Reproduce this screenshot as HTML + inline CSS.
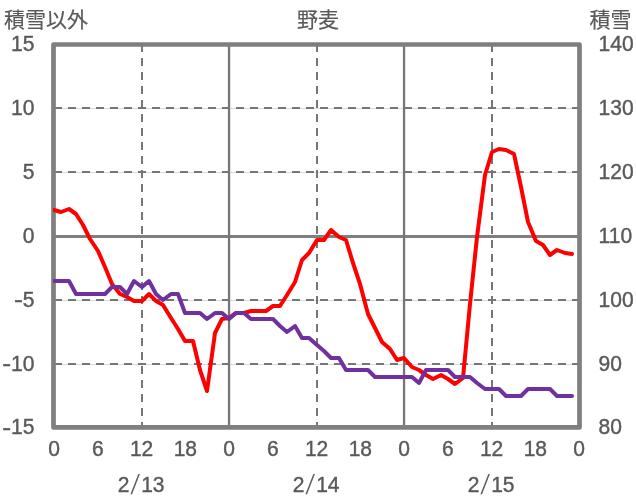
<!DOCTYPE html>
<html lang="ja"><head><meta charset="utf-8"><title>野麦</title>
<style>
html,body{margin:0;padding:0;background:#fff;}
body{width:636px;height:501px;overflow:hidden;font-family:"Liberation Sans",sans-serif;}
svg{display:block;position:absolute;left:0;top:0;}
svg .t{opacity:0.999;}
svg text{font-family:"Liberation Sans",sans-serif;font-size:21.7px;fill:#595959;stroke:#595959;stroke-width:0.4px;}
svg text.cjk{font-family:"Liberation Sans","Noto Sans CJK JP",sans-serif;font-size:21px;stroke-width:0.2px;}
.hid{position:absolute;left:0;top:0;width:1px;height:1px;overflow:hidden;color:transparent;font-size:1px;}
</style></head><body>
<div class="hid">積雪以外 野麦 積雪</div>
<svg width="636" height="501" viewBox="0 0 636 501">
<rect x="0" y="0" width="636" height="501" fill="#ffffff"/>

<g fill="none">
<line x1="54" y1="108.5" x2="579" y2="108.5" stroke="#dcdcdc" stroke-width="1"/>
<line x1="54" y1="108" x2="579" y2="108" stroke="#767676" stroke-width="2" stroke-dasharray="8 6"/>
<line x1="54" y1="172.5" x2="579" y2="172.5" stroke="#dcdcdc" stroke-width="1"/>
<line x1="54" y1="172" x2="579" y2="172" stroke="#767676" stroke-width="2" stroke-dasharray="8 6"/>
<line x1="54" y1="300.5" x2="579" y2="300.5" stroke="#dcdcdc" stroke-width="1"/>
<line x1="54" y1="300" x2="579" y2="300" stroke="#767676" stroke-width="2" stroke-dasharray="8 6"/>
<line x1="54" y1="364.5" x2="579" y2="364.5" stroke="#dcdcdc" stroke-width="1"/>
<line x1="54" y1="364" x2="579" y2="364" stroke="#767676" stroke-width="2" stroke-dasharray="8 6"/>
<line x1="54" y1="236.5" x2="579" y2="236.5" stroke="#7f7f7f" stroke-width="2.9"/>
<line x1="142" y1="44" x2="142" y2="427" stroke="#767676" stroke-width="2" stroke-dasharray="8 6"/>
<line x1="317" y1="44" x2="317" y2="427" stroke="#767676" stroke-width="2" stroke-dasharray="8 6"/>
<line x1="492" y1="44" x2="492" y2="427" stroke="#767676" stroke-width="2" stroke-dasharray="8 6"/>
<line x1="229.05" y1="44" x2="229.05" y2="427" stroke="#767676" stroke-width="2.3"/>
<line x1="404.05" y1="44" x2="404.05" y2="427" stroke="#767676" stroke-width="2.3"/>
<rect x="53.5" y="44.5" width="526.0" height="382.90" stroke="#7f7f7f" stroke-width="4.7" stroke-linejoin="round"/>
<clipPath id="pc"><rect x="53" y="30" width="540" height="410"/></clipPath><g clip-path="url(#pc)">
<polyline points="54,210 61,212 69,209 76,214 83,225 90,239 98,251 105,267 112,284 120,294 127,297 134,301 142,301 149,294 156,301 163,305 171,318 178,329 185,341 193,341 200,370 207,391 215,333 222,319 229,318 236,313 244,313 251,311 258,311 266,311 273,306 280,306 287,295 295,282 302,260 309,253 317,240 324,240 331,230 339,237 346,240 353,263 360,284 368,314 375,328 382,342 390,349 397,360 404,358 412,367 419,370 426,375 433,379 441,375 448,379 455,384 463,378 470,304 477,237 485,175 492,152 499,149 506,150 514,154 521,187 528,222 536,241 543,245 550,255 557,250 565,253 572,254" stroke="#ff0000" stroke-width="4" stroke-linejoin="round" stroke-linecap="round"/>
<polyline points="54,281 61,281 69,281 76,294 83,294 90,294 98,294 105,294 112,287 120,287 127,294 134,281 142,287 149,281 156,294 163,300 171,294 178,294 185,313 193,313 200,313 207,319 215,313 222,313 229,319 236,313 244,313 251,319 258,319 266,319 273,319 280,326 287,332 295,326 302,338 309,338 317,345 324,351 331,358 339,358 346,370 353,370 360,370 368,370 375,377 382,377 390,377 397,377 404,377 412,377 419,383 426,370 433,370 441,370 448,370 455,377 463,377 470,377 477,383 485,389 492,389 499,389 506,396 514,396 521,396 528,389 536,389 543,389 550,389 557,396 565,396 572,396" stroke="#7030a0" stroke-width="4" stroke-linejoin="round" stroke-linecap="round"/>
</g></g>
<g class="t">
<text transform="translate(34.50,51.43) scale(0.97,1)" text-anchor="end">15</text>
<text transform="translate(34.50,115.24) scale(0.97,1)" text-anchor="end">10</text>
<text transform="translate(34.50,179.06) scale(0.97,1)" text-anchor="end">5</text>
<text transform="translate(34.50,242.87) scale(0.97,1)" text-anchor="end">0</text>
<text transform="translate(34.50,306.69) scale(0.97,1)" text-anchor="end">5</text>
<text transform="translate(22.87,307.49) scale(1.232,1)" text-anchor="end">-</text>
<text transform="translate(34.50,370.51) scale(0.97,1)" text-anchor="end">10</text>
<text transform="translate(11.19,371.31) scale(1.232,1)" text-anchor="end">-</text>
<text transform="translate(34.50,434.32) scale(0.97,1)" text-anchor="end">15</text>
<text transform="translate(11.19,435.12) scale(1.232,1)" text-anchor="end">-</text>
<text transform="translate(598.60,51.43) scale(0.97,1)" text-anchor="start">140</text>
<text transform="translate(598.60,115.24) scale(0.97,1)" text-anchor="start">130</text>
<text transform="translate(598.60,179.06) scale(0.97,1)" text-anchor="start">120</text>
<text transform="translate(598.60,242.87) scale(0.97,1)" text-anchor="start">110</text>
<text transform="translate(598.60,306.69) scale(0.97,1)" text-anchor="start">100</text>
<text transform="translate(598.60,370.51) scale(0.97,1)" text-anchor="start">90</text>
<text transform="translate(598.60,434.32) scale(0.97,1)" text-anchor="start">80</text>
<text transform="translate(54.10,455.75) scale(0.97,1)" text-anchor="middle">0</text>
<text transform="translate(97.85,455.75) scale(0.97,1)" text-anchor="middle">6</text>
<text transform="translate(141.60,455.75) scale(0.97,1)" text-anchor="middle">12</text>
<text transform="translate(185.35,455.75) scale(0.97,1)" text-anchor="middle">18</text>
<text transform="translate(229.10,455.75) scale(0.97,1)" text-anchor="middle">0</text>
<text transform="translate(272.85,455.75) scale(0.97,1)" text-anchor="middle">6</text>
<text transform="translate(316.60,455.75) scale(0.97,1)" text-anchor="middle">12</text>
<text transform="translate(360.35,455.75) scale(0.97,1)" text-anchor="middle">18</text>
<text transform="translate(404.10,455.75) scale(0.97,1)" text-anchor="middle">0</text>
<text transform="translate(447.85,455.75) scale(0.97,1)" text-anchor="middle">6</text>
<text transform="translate(491.60,455.75) scale(0.97,1)" text-anchor="middle">12</text>
<text transform="translate(535.35,455.75) scale(0.97,1)" text-anchor="middle">18</text>
<text transform="translate(579.10,455.75) scale(0.97,1)" text-anchor="middle">0</text>
<text transform="translate(129.45,492.1) scale(0.97,1)" text-anchor="end">2</text>
<text transform="translate(130.45,494.0) skewX(-11) scale(0.72,1)" style="font-size:27.5px;stroke:none">/</text>
<text transform="translate(141.15,492.1) scale(0.97,1)" text-anchor="start">13</text>
<text transform="translate(304.45,492.1) scale(0.97,1)" text-anchor="end">2</text>
<text transform="translate(305.45,494.0) skewX(-11) scale(0.72,1)" style="font-size:27.5px;stroke:none">/</text>
<text transform="translate(316.15,492.1) scale(0.97,1)" text-anchor="start">14</text>
<text transform="translate(479.45,492.1) scale(0.97,1)" text-anchor="end">2</text>
<text transform="translate(480.45,494.0) skewX(-11) scale(0.72,1)" style="font-size:27.5px;stroke:none">/</text>
<text transform="translate(491.15,492.1) scale(0.97,1)" text-anchor="start">15</text>
<text class="cjk" x="4.1" y="27" text-anchor="start">積雪以外</text>
<text class="cjk" x="297.04" y="27" text-anchor="start">野麦</text>
<text class="cjk" x="589.42" y="27" text-anchor="start">積雪</text>
</g>
</svg></body></html>
